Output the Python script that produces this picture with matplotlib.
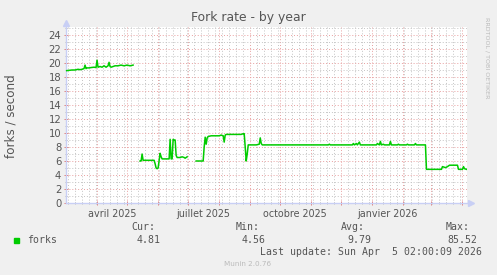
import matplotlib
matplotlib.use("Agg")
import matplotlib.pyplot as plt
import matplotlib.dates as mdates
import matplotlib.transforms as mtransforms
import numpy as np
from datetime import datetime, timedelta

# time span of the munin "by year" graph
start = datetime(2025, 3, 1, 2, 0)
end = datetime(2026, 4, 5, 2, 0)

# forks per second, days counted from start
seg1_days = [0, 3, 6, 9, 12, 14, 16, 18, 19, 20, 21, 23, 25, 28, 30, 31, 32, 34,
             36, 38, 40, 42, 43, 44, 45, 47, 49, 52, 55, 58, 61, 64, 67]
seg1_vals = [18.9, 18.95, 19.0, 19.0, 19.1, 19.05, 19.1, 19.2, 19.7, 19.2, 19.3,
             19.3, 19.35, 19.4, 19.35, 20.4, 19.4, 19.5, 19.4, 19.6, 19.4, 19.6,
             20.1, 19.5, 19.4, 19.5, 19.6, 19.6, 19.7, 19.6, 19.7, 19.6, 19.7]

seg2_days = [74, 75, 76, 77, 80, 84, 88, 89, 90, 91, 92, 93, 94, 95, 96, 100, 103,
             104, 105, 106, 107, 108, 109, 110, 111, 114, 116, 118, 119, 120, 121]
seg2_vals = [6.0, 6.0, 7.0, 6.1, 6.1, 6.1, 6.1, 5.6, 5.0, 4.9, 5.0, 6.0, 7.1, 6.6,
             6.3, 6.3, 6.3, 9.1, 6.3, 6.3, 9.1, 9.0, 9.0, 6.8, 6.5, 6.5, 6.6, 6.5,
             6.4, 6.5, 6.6]

seg3_days = [130, 134, 137, 138, 139, 140, 141, 142, 145, 150, 153, 155, 157, 158,
             159, 160, 165, 170, 175, 177, 178, 179, 180, 181, 182, 186, 190, 193,
             194, 195, 196, 230, 262, 263, 264, 286, 287, 288, 290, 291, 293, 294,
             310, 311, 313, 314, 315, 317, 318, 323, 324, 325, 331, 332, 333, 340,
             341, 342, 348, 349, 350, 359, 360, 375, 376, 379, 381, 383, 391, 392,
             396, 397, 398, 400]
seg3_vals = [6.0, 6.0, 6.0, 8.0, 9.4, 8.4, 9.3, 9.5, 9.6, 9.6, 9.6, 9.7, 9.6, 8.7,
             9.7, 9.8, 9.8, 9.8, 9.8, 9.9, 9.9, 8.0, 6.0, 7.0, 8.3, 8.3, 8.3, 8.4,
             9.3, 8.5, 8.3, 8.3, 8.3, 8.4, 8.3, 8.3, 8.5, 8.3, 8.5, 8.3, 8.7, 8.3,
             8.3, 8.5, 8.3, 8.8, 8.3, 8.4, 8.3, 8.3, 8.8, 8.3, 8.3, 8.4, 8.3, 8.3,
             8.4, 8.3, 8.3, 8.5, 8.3, 8.3, 4.81, 4.81, 5.2, 5.05, 5.2, 5.4, 5.4,
             4.81, 4.81, 5.2, 4.9, 4.81]

month_labels = ["avril 2025", "juillet 2025", "octobre 2025", "janvier 2026"]
label_months = [datetime(2025, 4, 16), datetime(2025, 7, 16), datetime(2025, 10, 16), datetime(2026, 1, 16)]

legend_name = "forks"
stats_names = ["Cur:", "Min:", "Avg:", "Max:"]
stats_vals = ["4.81", "4.56", "9.79", "85.52"]

BACK = "#F0F0F0"
FONT = "#555555"
AXIS = "#C8CFF5"
GREEN = "#00CC00"

fig = plt.figure(figsize=(4.97, 2.75), dpi=100, facecolor=BACK)
W, H = 497, 275
x0, x1 = 66, 466.5
ybot, ytop = 203, 26.6
ax = fig.add_axes([x0 / W, 1 - ybot / H, (x1 - x0) / W, (ybot - ytop) / H])
ax.set_facecolor("white")

days = seg1_days + [np.nan] + seg2_days + [np.nan] + seg3_days
vals = seg1_vals + [np.nan] + seg2_vals + [np.nan] + seg3_vals
dates = [start + timedelta(days=d) if not np.isnan(d) else start for d in days]
ax.plot(dates, vals, color=GREEN, lw=1.1, zorder=5)

ax.set_xlim(start, end)
ax.set_ylim(0, 25.2)

ax.xaxis.set_major_locator(mdates.MonthLocator())
ax.xaxis.set_minor_locator(mdates.WeekdayLocator(byweekday=mdates.MO))
ax.xaxis.set_major_formatter(plt.NullFormatter())
ax.yaxis.set_major_locator(plt.MultipleLocator(2))
ax.yaxis.set_minor_locator(plt.MultipleLocator(1))

ax.grid(which="minor", color="#C4C4C4", lw=0.7, ls=(0, (1, 2)))
ax.grid(which="major", color="#E8A0A0", lw=0.7, ls=(0, (1, 2)))
ax.set_axisbelow(True)

ax.tick_params(axis="x", which="major", length=3, color="#E08080", direction="inout", width=0.7)
ax.tick_params(axis="x", which="minor", length=2, color="#B8B8B8", direction="inout", width=0.7)
ax.tick_params(axis="y", which="major", length=3, color="#E08080", direction="inout",
               width=0.7, labelsize=7.2, labelcolor=FONT, pad=2)
ax.tick_params(axis="y", which="minor", length=2, color="#B8B8B8", direction="inout", width=0.7)

for s in ["top", "right"]:
    ax.spines[s].set_visible(False)
for s in ["bottom", "left"]:
    ax.spines[s].set_color(AXIS)
    ax.spines[s].set_linewidth(1.0)

# axis arrows
ax.plot([1.012], [0], marker=">", color=AXIS, ms=5, transform=ax.transAxes, clip_on=False)
ax.plot([0], [1.02], marker="^", color=AXIS, ms=5, transform=ax.transAxes, clip_on=False)

trans = mtransforms.blended_transform_factory(ax.transData, fig.transFigure)
for d, lab in zip(label_months, month_labels):
    ax.text(d, 1 - 214 / H, lab, transform=trans, ha="center", va="center",
            fontsize=6.9, color=FONT)

fig.text(248 / W, 1 - 18 / H, "Fork rate - by year", ha="center", va="center",
         fontsize=8.9, color=FONT)
fig.text(11 / W, 1 - 116 / H, "forks / second", ha="center", va="center",
         rotation=90, fontsize=8.6, color=FONT)
fig.text(487 / W, 1 - 58 / H, "RRDTOOL / TOBI OETIKER", ha="center", va="center",
         rotation=-90, fontsize=4.6, color="#BBBBBB")

mono = "DejaVu Sans Mono"
fig.patches.append(plt.Rectangle((14 / W, 1 - 243 / H), 5 / W, 5 / H,
                                 transform=fig.transFigure, color=GREEN, figure=fig))
fig.text(27 / W, 1 - 240 / H, legend_name, ha="left", va="center", family=mono,
         fontsize=7.1, color=FONT)
name_x = [155, 260, 365, 470]
val_x = [161, 266, 371, 477]
for nx, vx, n, v in zip(name_x, val_x, stats_names, stats_vals):
    fig.text(nx / W, 1 - 227 / H, n, ha="right", va="center", family=mono,
             fontsize=7.1, color=FONT)
    fig.text(vx / W, 1 - 240 / H, v, ha="right", va="center", family=mono,
             fontsize=7.1, color=FONT)
fig.text(482 / W, 1 - 252 / H, "Last update: Sun Apr  5 02:00:09 2026", ha="right",
         va="center", family=mono, fontsize=7.1, color=FONT)
fig.text(248 / W, 1 - 264 / H, "Munin 2.0.76", ha="center", va="center",
         fontsize=5.2, color="#BBBBBB")

fig.savefig("out.png", dpi=100, facecolor=BACK)
